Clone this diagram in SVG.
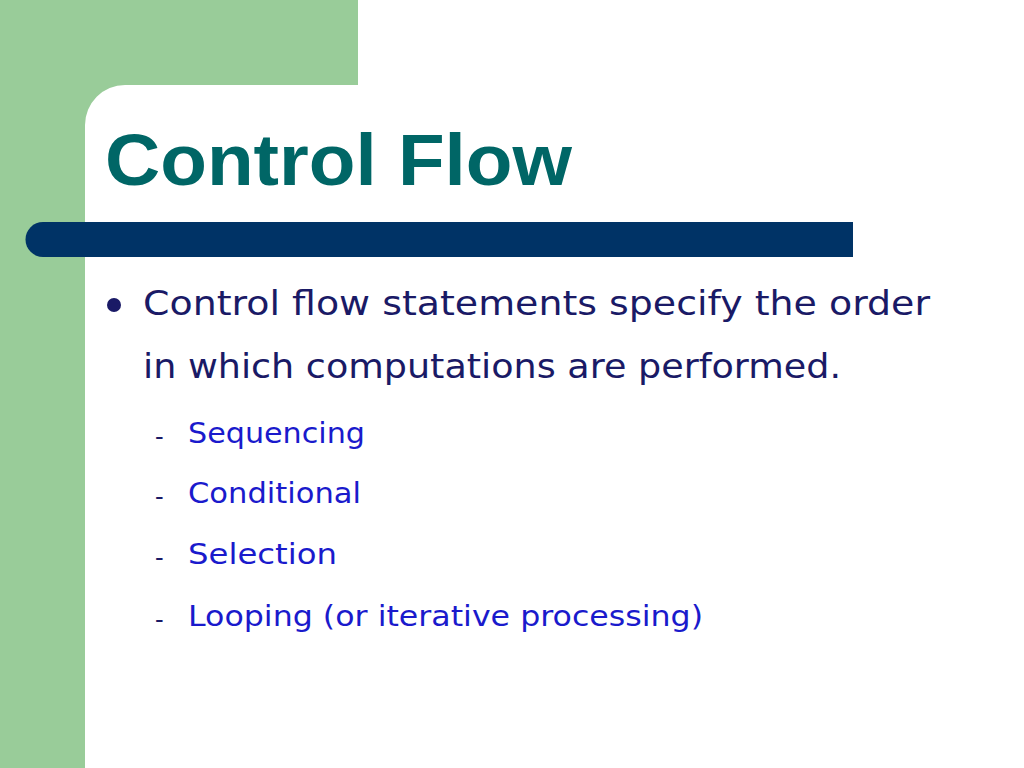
<svg xmlns="http://www.w3.org/2000/svg" width="1024" height="768" viewBox="0 0 1024 768">
<style>
.t{font-family:"Liberation Sans",Arial,sans-serif;font-weight:bold;font-size:72px;fill:#006666}
.b{font-family:"DejaVu Sans","Noto Sans",sans-serif;font-size:33px;fill:#1a1a66}
.s{font-family:"DejaVu Sans","Noto Sans",sans-serif;font-size:29px;fill:#1a1acc}
.d{font-family:"DejaVu Sans",sans-serif;font-size:24px;fill:#1a1a66}
</style>
<rect width="1024" height="768" fill="#ffffff"/>
<g id="bg">
<rect x="0" y="0" width="358" height="85" fill="#99cc99"/>
<rect x="0" y="0" width="85" height="768" fill="#99cc99"/>
<path d="M85 85 H125 A40 40 0 0 0 85 125 Z" fill="#99cc99"/>
</g>
<g id="bar">
<path d="M43 222 H853 V257 H43 A17.5 17.5 0 0 1 43 222 Z" fill="#003366"/>
</g>
<g id="title"><text class="t" x="105" y="185" textLength="467" lengthAdjust="spacingAndGlyphs">Control Flow</text></g>
<g id="body">
<circle cx="114" cy="305" r="7" fill="#1a1a66"/>
<text class="b" x="143" y="315" textLength="787" lengthAdjust="spacingAndGlyphs">Control flow statements specify the order</text>
<text class="b" x="143" y="378" textLength="698" lengthAdjust="spacingAndGlyphs">in which computations are performed.</text>
<text class="d" x="155" y="445">-</text>
<text class="s" x="188" y="443" textLength="177" lengthAdjust="spacingAndGlyphs">Sequencing</text>
<text class="d" x="155" y="505">-</text>
<text class="s" x="188" y="503" textLength="173" lengthAdjust="spacingAndGlyphs">Conditional</text>
<text class="d" x="155" y="566">-</text>
<text class="s" x="188" y="564" textLength="149" lengthAdjust="spacingAndGlyphs">Selection</text>
<text class="d" x="155" y="628">-</text>
<text class="s" x="188" y="626" textLength="515" lengthAdjust="spacingAndGlyphs">Looping (or iterative processing)</text>
</g>
</svg>
